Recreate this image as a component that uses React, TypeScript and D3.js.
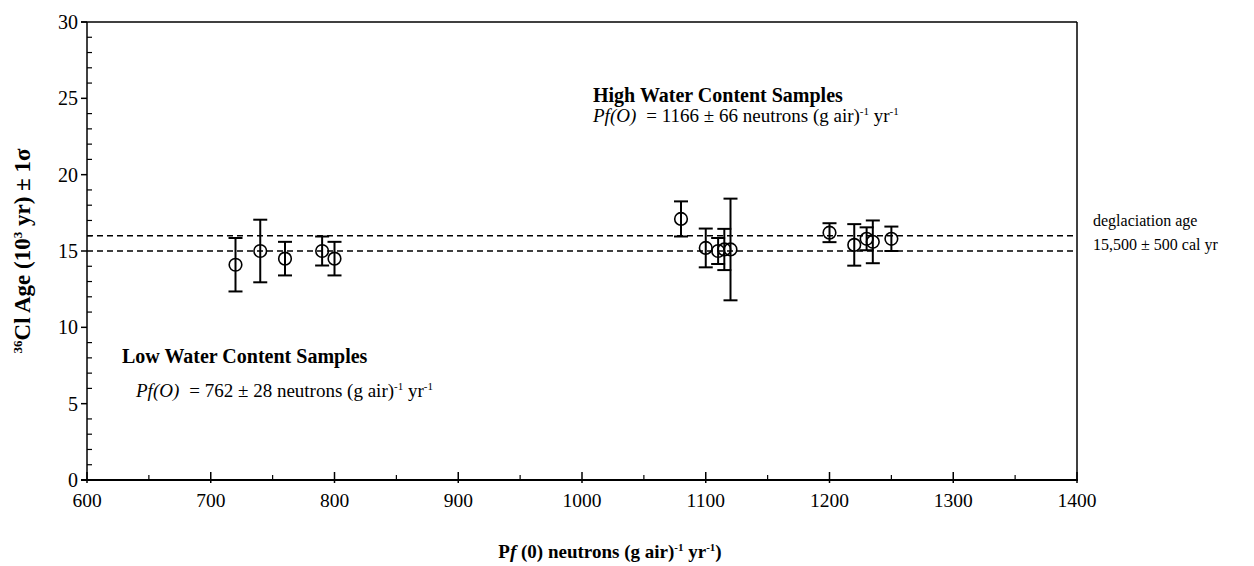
import React from "react";
import * as d3 from "d3";

// Production rate Pf(0) for each sample (neutrons (g air)^-1 yr^-1)
const prodRate = [720, 740, 760, 790, 800, 1080, 1100, 1110, 1115, 1120, 1200, 1220, 1230, 1235, 1250];
// 36Cl age (10^3 yr)
const age = [14.1, 15.0, 14.5, 15.0, 14.5, 17.1, 15.2, 15.0, 15.1, 15.1, 16.2, 15.4, 15.8, 15.6, 15.8];
// 1-sigma age uncertainty (10^3 yr)
const ageErr = [1.75, 2.05, 1.1, 0.95, 1.1, 1.15, 1.27, 0.85, 1.35, 3.33, 0.62, 1.36, 0.75, 1.4, 0.8];

const xTicks = [600, 700, 800, 900, 1000, 1100, 1200, 1300, 1400];
const yTicks = [0, 5, 10, 15, 20, 25, 30];
// Deglaciation age bounds 15,500 ± 500 cal yr
const deglaciation = [15.0, 16.0];

const W = 1254;
const H = 566;
const left = 87;
const right = 1077;
const top = 22;
const bottom = 480;
const font = "'Liberation Serif', 'Times New Roman', serif";

export default function App() {
  const x = d3.scaleLinear().domain([600, 1400]).range([left, right]);
  const y = d3.scaleLinear().domain([0, 30]).range([bottom, top]);
  const xMinor = d3.range(650, 1400, 100);
  const yMinor = d3.range(0, 31, 1).filter((v) => v % 5 !== 0);
  const cap = 7;

  return (
    <svg
      width={W}
      height={H}
      style={{ position: "absolute", left: 0, top: 0, display: "block", background: "#fff" }}
      fontFamily={font}
    >
      <rect x={0} y={0} width={W} height={H} fill="#fff" />

      {/* deglaciation age band */}
      {deglaciation.map((v) => (
        <line
          key={v}
          x1={left}
          x2={right}
          y1={y(v)}
          y2={y(v)}
          stroke="#000"
          strokeWidth={1.5}
          strokeDasharray="6,4"
        />
      ))}

      {/* frame */}
      <line x1={left - 6} x2={right} y1={top} y2={top} stroke="#000" strokeWidth={1.5} />
      <line x1={right} x2={right} y1={top} y2={bottom} stroke="#000" strokeWidth={1.5} />
      <line x1={left} x2={left} y1={top} y2={bottom + 1} stroke="#000" strokeWidth={1.5} />
      <line x1={left - 6} x2={right + 1} y1={bottom} y2={bottom} stroke="#000" strokeWidth={2} />

      {/* y ticks */}
      {yTicks.map((v) => (
        <g key={v}>
          <line x1={left - 6} x2={left} y1={y(v)} y2={y(v)} stroke="#000" strokeWidth={1.5} />
          <text x={78} y={y(v) + 7} fontSize={20} textAnchor="end">
            {v}
          </text>
        </g>
      ))}
      {yMinor.map((v) => (
        <line key={v} x1={left} x2={left + 5} y1={y(v)} y2={y(v)} stroke="#000" strokeWidth={1.2} />
      ))}

      {/* x ticks */}
      {xTicks.map((v) => (
        <g key={v}>
          <line x1={x(v)} x2={x(v)} y1={bottom - 8} y2={bottom + 3} stroke="#000" strokeWidth={1.5} />
          <text x={x(v)} y={507} fontSize={19.5} textAnchor="middle">
            {v}
          </text>
        </g>
      ))}
      {xMinor.map((v) => (
        <line key={v} x1={x(v)} x2={x(v)} y1={bottom - 5} y2={bottom} stroke="#000" strokeWidth={1.2} />
      ))}

      {/* error bars */}
      {prodRate.map((p, i) => {
        const cx = x(p);
        const y1 = y(age[i] + ageErr[i]);
        const y2 = y(age[i] - ageErr[i]);
        return (
          <g key={i} stroke="#000" strokeWidth={2}>
            <line x1={cx} x2={cx} y1={y1} y2={y2} />
            <line x1={cx - cap} x2={cx + cap} y1={y1} y2={y1} />
            <line x1={cx - cap} x2={cx + cap} y1={y2} y2={y2} />
          </g>
        );
      })}
      {/* sample points */}
      {prodRate.map((p, i) => (
        <circle key={i} cx={x(p)} cy={y(age[i])} r={6.3} fill="none" stroke="#000" strokeWidth={1.6} />
      ))}

      {/* annotations */}
      <text x={593} y={102} fontSize={20} fontWeight="bold">
        High Water Content Samples
      </text>
      <text x={593} y={122} fontSize={19}>
        <tspan fontStyle="italic">Pf(O)</tspan>
        <tspan dx={10}>= 1166 ± 66 neutrons (g air)</tspan>
        <tspan fontSize={11} dy={-7}>-1</tspan>
        <tspan dy={7}> yr</tspan>
        <tspan fontSize={11} dy={-7}>-1</tspan>
      </text>

      <text x={122} y={363} fontSize={20} fontWeight="bold">
        Low Water Content Samples
      </text>
      <text x={136} y={397} fontSize={19}>
        <tspan fontStyle="italic">Pf(O)</tspan>
        <tspan dx={10}>= 762 ± 28 neutrons (g air)</tspan>
        <tspan fontSize={11} dy={-7}>-1</tspan>
        <tspan dy={7}> yr</tspan>
        <tspan fontSize={11} dy={-7}>-1</tspan>
      </text>

      <text x={1093} y={226} fontSize={16}>
        deglaciation age
      </text>
      <text x={1093} y={250} fontSize={16}>
        15,500 ± 500 cal yr
      </text>

      {/* axis titles */}
      <text
        transform={`translate(30, ${(top + bottom) / 2}) rotate(-90)`}
        fontSize={23}
        fontWeight="bold"
        textAnchor="middle"
      >
        <tspan fontSize={13} dy={-8}>36</tspan>
        <tspan dy={8}>Cl Age (10</tspan>
        <tspan fontSize={13} dy={-8}>3</tspan>
        <tspan dy={8}> yr) ± 1σ</tspan>
      </text>

      <text x={610} y={558} fontSize={19} fontWeight="bold" textAnchor="middle">
        P<tspan fontStyle="italic">f</tspan> (0) neutrons (g air)
        <tspan fontSize={11} dy={-7}>-1</tspan>
        <tspan dy={7}> yr</tspan>
        <tspan fontSize={11} dy={-7}>-1</tspan>
        <tspan dy={7}>)</tspan>
      </text>
    </svg>
  );
}
